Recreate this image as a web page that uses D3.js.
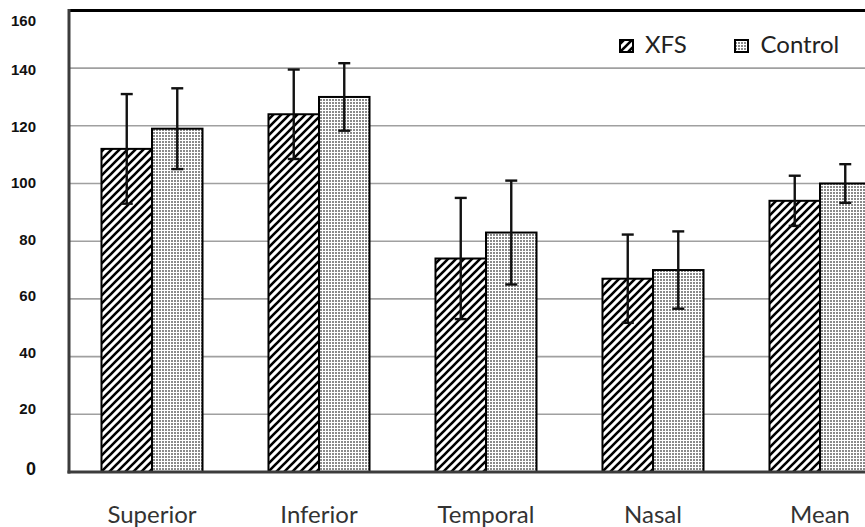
<!DOCTYPE html>
<html>
<head>
<meta charset="utf-8">
<script src="https://cdn.jsdelivr.net/npm/d3@7/dist/d3.min.js"></script>
<style>
  html, body { margin: 0; padding: 0; background: #fff; }
  svg { display: block; }
</style>
</head>
<body>
<svg id="chart" width="865" height="527"></svg>
<script>
// ---- data ----
const categories = ["Superior", "Inferior", "Temporal", "Nasal", "Mean"];
const seriesNames = ["XFS", "Control"];
const xfsValues = [112, 124, 74, 67, 94];
const xfsErrors = [19, 15.5, 21, 15.3, 8.7];
const controlValues = [119, 130, 83, 70, 100];
const controlErrors = [14, 11.7, 18, 13.4, 6.7];
const yTicks = [0, 20, 40, 60, 80, 100, 120, 140, 160];

// ---- layout ----
const W = 865, H = 527;
const plot = { left: 69, top: 10.4, bottom: 472, right: 904 };

const svg = d3.select("#chart");
const defs = svg.append("defs");

// diagonal hatch for XFS
const hatch = defs.append("pattern")
  .attr("id", "hatch").attr("patternUnits", "userSpaceOnUse")
  .attr("width", 8).attr("height", 8);
hatch.append("rect").attr("width", 8).attr("height", 8).attr("fill", "#fff");
hatch.append("path")
  .attr("d", "M-2,2 L2,-2 M0,8 L8,0 M6,10 L10,6")
  .attr("stroke", "#000").attr("stroke-width", 2.6);

// fine dots for Control
const dots = defs.append("pattern")
  .attr("id", "dots").attr("patternUnits", "userSpaceOnUse")
  .attr("width", 3).attr("height", 3);
dots.append("rect").attr("width", 3).attr("height", 3).attr("fill", "#fff");
dots.append("rect").attr("width", 2).attr("height", 2).attr("fill", "#8a8a8a");

const fills = { XFS: "url(#hatch)", Control: "url(#dots)" };

const data = categories.map((c, i) => ({
  cat: c,
  vals: [
    { s: "XFS", v: xfsValues[i], e: xfsErrors[i] },
    { s: "Control", v: controlValues[i], e: controlErrors[i] }
  ]
}));

const y = d3.scaleLinear().domain([0, 160]).range([plot.bottom, plot.top]);
const x0 = d3.scaleBand().domain(categories).range([plot.left, plot.right]).padding(0);
const bw = x0.bandwidth();
const groupW = bw * 0.605;
const x1 = d3.scaleBand().domain(seriesNames)
  .range([(bw - groupW) / 2 - 0.5, (bw + groupW) / 2 - 0.5]).padding(0);

// gridlines
svg.append("g").selectAll("line")
  .data(yTicks.filter(t => t > 0 && t < 160))
  .join("line")
  .attr("x1", plot.left).attr("x2", W)
  .attr("y1", d => y(d)).attr("y2", d => y(d))
  .attr("stroke", "#a0a0a0").attr("stroke-width", 1.6);

// bars
const groups = svg.append("g").selectAll("g")
  .data(data).join("g")
  .attr("transform", d => `translate(${x0(d.cat)},0)`);

groups.selectAll("rect")
  .data(d => d.vals).join("rect")
  .attr("x", d => x1(d.s))
  .attr("width", x1.bandwidth())
  .attr("y", d => y(d.v))
  .attr("height", d => y(0) - y(d.v))
  .attr("fill", d => fills[d.s])
  .attr("stroke", "#000").attr("stroke-width", 2);

// error bars
const capW = 12;
const eb = groups.selectAll("g.err")
  .data(d => d.vals).join("g").attr("class", "err");
eb.append("line")
  .attr("x1", d => x1(d.s) + x1.bandwidth() / 2)
  .attr("x2", d => x1(d.s) + x1.bandwidth() / 2)
  .attr("y1", d => y(d.v + d.e)).attr("y2", d => y(d.v - d.e))
  .attr("stroke", "#111").attr("stroke-width", 2.4);
eb.append("line")
  .attr("x1", d => x1(d.s) + x1.bandwidth() / 2 - capW / 2)
  .attr("x2", d => x1(d.s) + x1.bandwidth() / 2 + capW / 2)
  .attr("y1", d => y(d.v + d.e)).attr("y2", d => y(d.v + d.e))
  .attr("stroke", "#111").attr("stroke-width", 2.4);
eb.append("line")
  .attr("x1", d => x1(d.s) + x1.bandwidth() / 2 - capW / 2)
  .attr("x2", d => x1(d.s) + x1.bandwidth() / 2 + capW / 2)
  .attr("y1", d => y(d.v - d.e)).attr("y2", d => y(d.v - d.e))
  .attr("stroke", "#111").attr("stroke-width", 2.4);

// axes frame
svg.append("line")
  .attr("x1", plot.left).attr("x2", W)
  .attr("y1", y(160)).attr("y2", y(160))
  .attr("stroke", "#000").attr("stroke-width", 3);
svg.append("line")
  .attr("x1", plot.left).attr("x2", plot.left)
  .attr("y1", y(160) - 1.5).attr("y2", y(0) + 1.5)
  .attr("stroke", "#3c3c3c").attr("stroke-width", 3);
svg.append("line")
  .attr("x1", plot.left - 1.5).attr("x2", W)
  .attr("y1", y(0)).attr("y2", y(0))
  .attr("stroke", "#3c3c3c").attr("stroke-width", 3);

// y tick labels (placed with their own label scale)
const yLabel = d3.scaleLinear().domain([20, 140]).range([409, 69.7]);
svg.append("g").selectAll("text")
  .data(yTicks).join("text")
  .attr("x", 36)
  .attr("y", d => d === 160 ? yLabel(d) + 7.5 : (d === 0 ? yLabel(d) + 3 : yLabel(d)))
  .attr("dy", "0.36em")
  .attr("text-anchor", "end")
  .attr("font-family", "'Liberation Sans', Arial, sans-serif")
  .attr("font-weight", "bold")
  .attr("font-size", d => d === 0 ? 18 : 15)
  .attr("fill", "#111")
  .text(d => d);

// x category labels
svg.append("g").selectAll("text")
  .data(categories).join("text")
  .attr("x", d => x0(d) + bw / 2 - 0.5)
  .attr("y", 523)
  .attr("text-anchor", "middle")
  .attr("font-family", "Lato, 'Open Sans', sans-serif")
  .attr("font-size", 24)
  .attr("fill", "#333")
  .text(d => d);

// legend
const legendItems = [
  { s: "XFS", sx: 620, tx: 645 },
  { s: "Control", sx: 735, tx: 760.5 }
];
const lg = svg.append("g");
lg.selectAll("rect").data(legendItems).join("rect")
  .attr("x", d => d.sx).attr("y", 40)
  .attr("width", 13).attr("height", 12)
  .attr("fill", d => fills[d.s])
  .attr("stroke", "#000").attr("stroke-width", 2);
lg.selectAll("text").data(legendItems).join("text")
  .attr("x", d => d.tx).attr("y", 52.7)
  .attr("font-family", "Lato, 'Open Sans', sans-serif")
  .attr("font-size", 24)
  .attr("fill", "#222")
  .text(d => d.s);
</script>
</body>
</html>
